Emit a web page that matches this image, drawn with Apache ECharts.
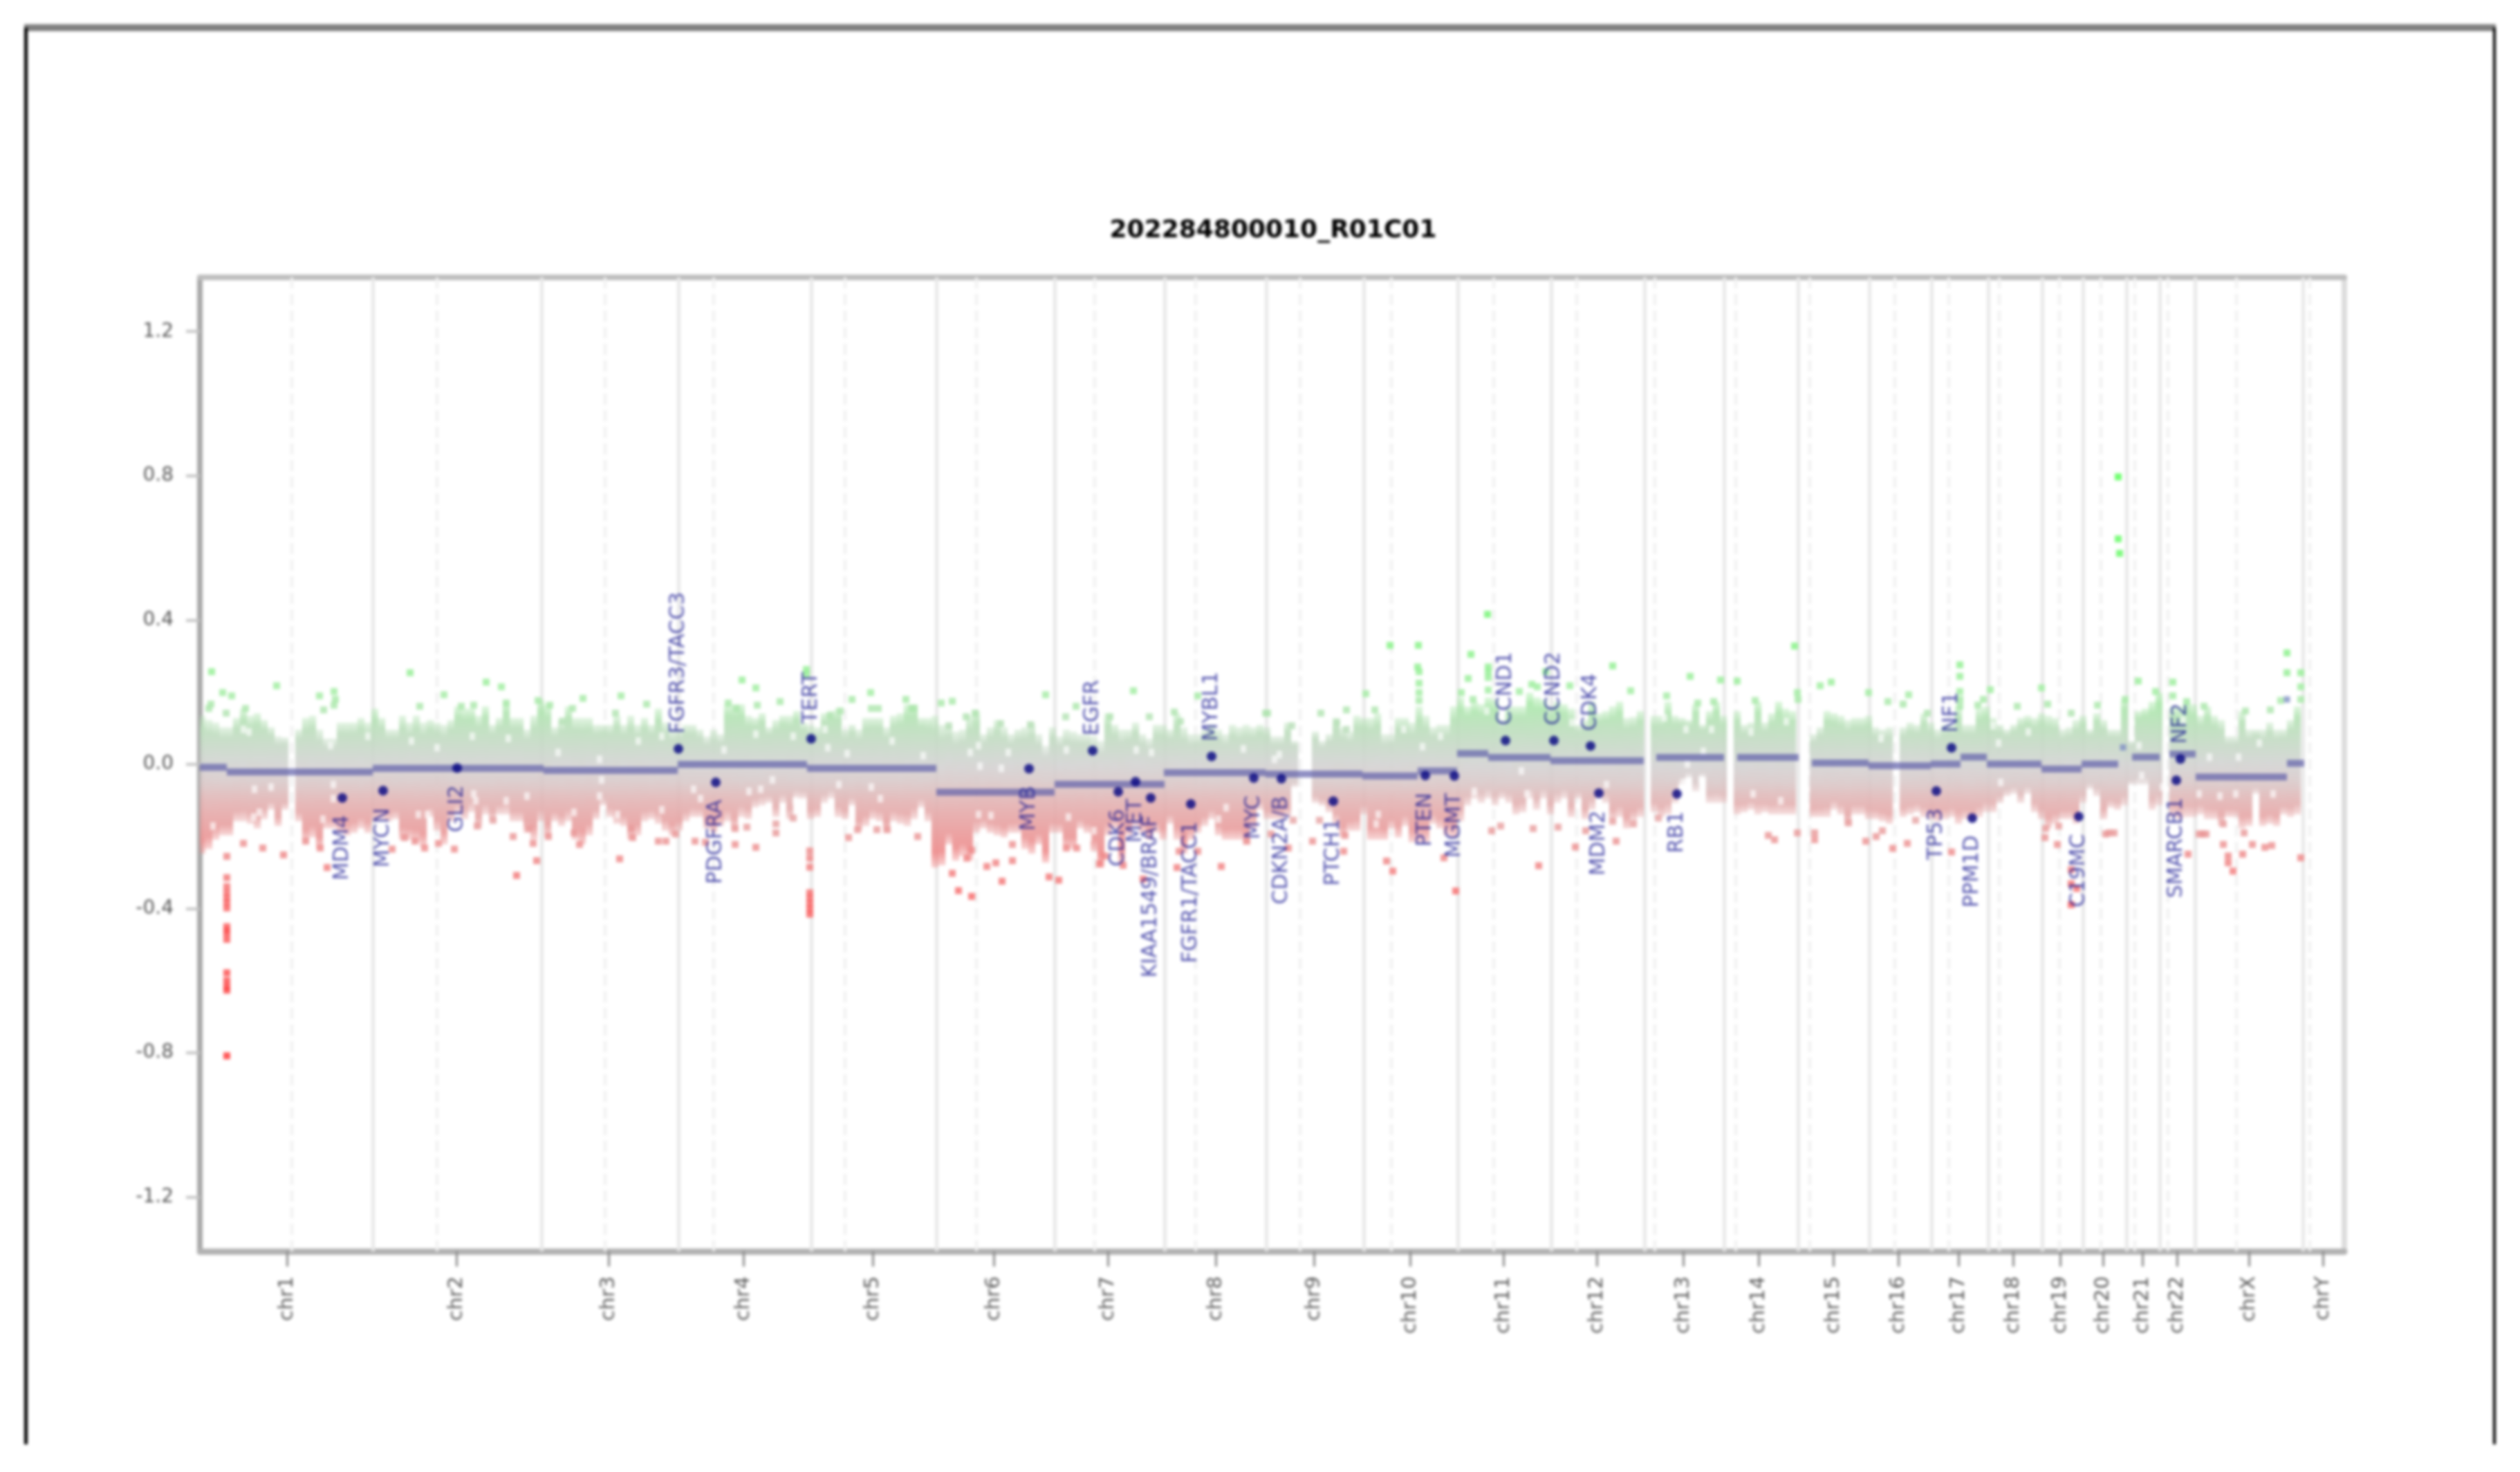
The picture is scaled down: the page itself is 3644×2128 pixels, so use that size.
<!DOCTYPE html>
<html><head><meta charset="utf-8"><title>202284800010_R01C01</title>
<style>html,body{margin:0;padding:0;background:#fff}#chart{width:3644px;height:2128px;filter:blur(2px)}</style>
<script src="https://cdn.jsdelivr.net/npm/echarts@6/dist/echarts.min.js"></script>
</head><body><div id="chart"></div>
<script>
const titleText = '202284800010_R01C01';
const yTicks = [-1.2,-0.8,-0.4,0,0.4,0.8,1.2];
const chrNames = ['chr1','chr2','chr3','chr4','chr5','chr6','chr7','chr8','chr9','chr10','chr11','chr12','chr13','chr14','chr15','chr16','chr17','chr18','chr19','chr20','chr21','chr22','chrX','chrY'];
const chrTicks = [123,368,588,783,970,1145,1310,1466,1608,1747,1882,2017,2142,2251,2359,2453,2540,2619,2687,2749,2806,2856,2960,3067];
const chrEnds = [247.5,491,689,881,1062,1233,1392.6,1539,1680,1816,1951.7,2086,2201,2308.4,2411.6,2501.7,2583,2661,2720,2783,2831.4,2882.5,3038];
const centromeres = [130,340,583,740,930,1120,1291,1437,1588,1720,1868,1988,2101,2218,2325,2448,2526,2599,2686,2746,2795,2843,2942,3048];

// copy-number cloud: upper and lower edge of the dense band, one reading every 10 Mb
const cloudStarts = [0,520,1030,1540,2060,2570];
const upper1 = [.135,.123,.116,.103,.103,.129,.155,.135,.142,.123,.103,.078,.075,null,.097,.129,.135,.097,.072,.072,.116,.116,.116,.129,.116,.155,.129,.097,.097,.135,.116,.135,.116,.123,.116,.11,.123,.161,.155,.155,.135,.161,.11,.129,.174,.129,.129,.097,.135,.18,.167,.103];
const lower1 = [-.248,-.235,-.209,-.197,-.197,-.158,-.158,-.165,-.178,-.152,-.126,-.171,-.126,null,-.158,-.216,-.203,-.235,-.178,-.178,-.19,-.197,-.19,-.178,-.19,-.158,-.152,-.158,-.152,-.209,-.209,-.216,-.229,-.146,-.184,-.222,-.158,-.139,-.152,-.133,-.178,-.139,-.158,-.139,-.139,-.158,-.158,-.19,-.209,-.158,-.203,-.158];
const upper2 = [.123,.161,.129,.129,.129,.11,.11,.11,.135,.11,.135,.11,.129,.11,.155,.116,.097,.097,.11,.11,.097,.078,.097,.084,.167,.167,.167,.135,.129,.142,.103,.123,.135,.135,.148,.116,.11,.103,.142,.148,.155,.097,.11,.097,.129,.129,.129,.103,.135,.142,.167];
const lower2 = [-.171,-.158,-.209,-.222,-.197,-.152,-.114,-.146,-.165,-.171,-.209,-.197,-.158,-.152,-.165,-.184,-.197,-.184,-.158,-.146,-.146,-.178,-.19,-.171,-.158,-.184,-.146,-.152,-.12,-.114,-.107,-.146,-.107,-.152,-.095,-.095,-.152,-.146,-.107,-.095,-.146,-.152,-.114,-.184,-.171,-.152,-.158,-.19,-.158,-.165,-.171];
const upper3 = [.167,.129,.129,.135,.11,.11,.091,.097,.135,.148,.084,.103,.123,.103,.084,.097,.103,.116,.084,.052,.103,.078,.097,.091,.084,.084,.078,.065,.142,.11,.097,.097,.116,.084,.072,.11,.11,.097,.142,.103,.084,.084,.097,.11,.097,.084,.11,.103,.11,.103,.11];
const lower3 = [-.152,-.12,-.158,-.286,-.28,-.222,-.267,-.254,-.267,-.19,-.178,-.19,-.197,-.203,-.19,-.19,-.235,-.248,-.222,-.273,-.19,-.19,-.235,-.235,-.178,-.19,-.241,-.286,-.197,-.178,-.273,-.197,-.171,-.19,-.209,-.19,-.209,-.165,-.209,-.248,-.209,-.19,-.171,-.152,-.197,-.209,-.209,-.209,-.222,-.178,-.126];
const upper4 = [.103,.078,.078,.116,.065,null,null,.091,.065,.084,.129,.103,.091,.135,.129,.129,.142,.084,.084,.129,.129,.116,.161,.135,.103,.11,.11,.161,.186,.161,.174,.167,.186,.18,.123,.161,.161,.161,.199,.186,.18,.161,.174,.167,.155,.11,.123,.174,.142,.148,.161,.174];
const lower4 = [-.152,-.152,-.152,-.146,-.063,null,null,-.107,-.114,-.133,-.165,-.203,-.184,-.184,-.139,-.209,-.209,-.209,-.178,-.203,-.171,-.216,-.216,-.216,-.165,-.178,-.197,-.203,-.158,-.114,-.095,-.107,-.095,-.114,-.095,-.107,-.139,-.133,-.095,-.126,-.095,-.139,-.107,-.095,-.146,-.095,-.152,-.126,-.095,-.107,-.158,-.146];
const upper5 = [.129,.132,.148,null,.135,.135,.174,.135,.129,.123,.167,.11,.148,.174,.135,null,.148,.11,.116,.174,.116,.142,.174,.155,.148,null,null,.084,.103,.148,.142,.135,.123,.129,.129,.135,.103,.097,.103,null,.103,.116,.11,.142,.116,.097,.11,.11,.161,.11,.11];
const lower5 = [-.178,-.158,-.146,null,-.133,-.146,-.139,-.107,-.056,-.037,-.075,-.037,-.107,-.107,-.107,null,-.139,-.133,-.126,-.139,-.133,-.139,-.139,-.139,-.139,null,null,-.146,-.146,-.146,-.126,-.139,-.171,-.139,-.139,-.152,-.152,-.158,-.165,null,-.146,-.139,-.133,-.146,-.152,-.158,-.152,-.146,-.165,-.152,-.158];
const upper6 = [.155,.161,.129,.11,.097,.11,.129,.135,.129,.142,.135,.129,.097,.103,.123,.135,.097,.142,.123,.097,.097,.18,.065,.148,.155,.174,.199,null,.161,.161,.18,.167,.135,.161,.135,.123,.078,.078,.148,.097,.097,.097,.116,.097,.097,.123,.161];
const lower6 = [-.146,-.133,-.133,-.107,-.088,-.082,-.107,-.082,-.133,-.152,-.178,-.165,-.152,-.152,-.165,-.107,-.069,-.088,-.152,-.12,-.126,-.114,-.056,-.056,-.056,-.126,-.114,null,-.146,-.152,-.146,-.146,-.139,-.152,-.152,-.171,-.146,-.146,-.178,-.171,-.082,-.171,-.165,-.171,-.139,-.146,-.139];

// sparse probes outside the band [Mb, log-ratio]
const gainPoints = [[14,.257],[30,.199],[43,.19],[108,.218],[13,.167],[10,.155],[35,.142],[63,.155],[170,.19],[191,.202],[193,.18],[191,.164],[176,.151],[301,.254],[350,.193],[411,.228],[433,.215],[315,.161],[375,.161],[393,.164],[440,.17],[486,.177],[503,.164],
[874,.263],[874,.25],[551,.183],[606,.19],[536,.155],[643,.167],[598,.142],[781,.234],[801,.212],[836,.174],[803,.164],[940,.18],[967,.199],[1018,.18],[1026,.155],[521,.12],[773,.155],[761,.17],[968,.155],[978,.155],[908,.135],[923,.148],
[1069,.17],[1085,.175],[1030,.155],[1118,.142],[1105,.132],[1080,.107],[1220,.193],[1264,.161],[1249,.132],[1347,.204],[1370,.132],[1313,.132],[1406,.145],[1440,.19],[1538,.142],[1155,.113],[1198,.11],[1415,.119],
[1718,.33],[1759,.33],[1758,.27],[1760,.257],[1760,.225],[1760,.199],[1760,.177],[1835,.305],[1860,.27],[1860,.257],[1860,.241],[1831,.238],[1860,.206],[2040,.273],[1683,.196],[1655,.151],[1618,.142],[1576,.107],[1923,.222],[1978,.218],[1943,.257],[1821,.199],[1838,.18],[1905,.202],[1931,.215],[1696,.151],[1541,.142],[1655,.097],[1641,.116],[1859,.416],
[2066,.204],[2152,.244],[2196,.234],[2220,.231],[2303,.328],[2118,.19],[2340,.218],[2356,.228],[2410,.199],[2438,.174],[2468,.193],[2460,.167],[2307,.199],[2308,.18],[2163,.17],[2186,.174],[2246,.177],[2495,.142],[2542,.276],[2542,.244],[2542,.202],[2542,.18],[2542,.161],[2568,.164],
[2586,.207],[2660,.212],[2625,.161],[2669,.167],[2576,.18],[2703,.142],[2741,.164],[2781,.18],[2800,.231],[2825,.202],[2850,.228],[2850,.19],[2895,.161],[2955,.148],[2991,.151],[3015,.309],[3015,.254],[3035,.254],[3035,.215],[3035,.18],[3006,.177],[2870,.174],[2771,.797],[2771,.625],[2773,.585]];
const lossPoints = [[36,-.255],[36,-.314],[36,-.339],[36,-.356],[36,-.37],[36,-.383],[36,-.398],[36,-.45],[36,-.46],[36,-.467],[36,-.485],[36,-.578],[36,-.6],[36,-.617],[36,-.626],[36,-.808],
[60,-.219],[88,-.232],[118,-.251],[150,-.213],[171,-.232],[181,-.286],[275,-.235],[293,-.203],[308,-.213],[322,-.232],[342,-.219],[365,-.235],[398,-.171],[421,-.155],[450,-.2],[473,-.178],[479,-.219],[484,-.267],[455,-.308],[501,-.2],
[604,-.262],[546,-.222],[538,-.19],[621,-.178],[623,-.203],[660,-.213],[671,-.213],[713,-.213],[728,-.216],[771,-.222],[801,-.23],[830,-.165],[830,-.19],[855,-.149],[771,-.178],[788,-.174],[935,-.203],[948,-.181],[976,-.181],[991,-.181],[685,-.193],
[879,-.24],[879,-.26],[879,-.285],[879,-.356],[879,-.37],[879,-.385],[879,-.4],[879,-.415],
[1035,-.2],[1085,-.302],[1094,-.35],[1113,-.366],[1135,-.283],[1148,-.273],[1172,-.267],[1157,-.324],[1225,-.312],[1239,-.321],[1172,-.222],[1250,-.232],[1265,-.232],[1298,-.276],[1332,-.28],[1361,-.318],[1410,-.286],[1474,-.283],[1511,-.213],[1113,-.238],[1106,-.26],[1306,-.254],[1413,-.241],[1440,-.241],
[1571,-.232],[1546,-.193],[1578,-.155],[1606,-.213],[1616,-.155],[1713,-.268],[1722,-.296],[1796,-.259],[1813,-.351],[1865,-.184],[1878,-.171],[1925,-.178],[1961,-.174],[1986,-.229],[1933,-.281],[2045,-.213],[2001,-.184],[2040,-.158],[1651,-.241],[1653,-.197],
[2070,-.165],[2106,-.149],[2265,-.197],[2274,-.209],[2307,-.19],[2332,-.19],[2332,-.209],[2381,-.162],[2406,-.213],[2421,-.2],[2430,-.184],[2445,-.233],[2466,-.219],[2530,-.243],[2478,-.155],
[2683,-.222],[2666,-.178],[2685,-.171],[2665,-.203],[2758,-.19],[2753,-.193],[2765,-.19],[2872,-.249],[2893,-.193],[2888,-.193],[2898,-.193],[2923,-.222],[2930,-.254],[2930,-.273],[2937,-.296],[2951,-.249],[2965,-.222],[2983,-.23],[2993,-.225],[3035,-.259],[2703,-.292],[2703,-.331],[2711,-.344],[2703,-.389],[2923,-.165],[2953,-.19]];
// thin spots inside the band [Mb, log-ratio]
const bandGaps = [[60,.097],[68,.09],[303,.065],[340,.046],[391,.078],[443,.072],[76,-.069],[100,-.063],[75,-.146],[83,-.133],[16,-.171],[190,-.056],[190,-.095],[175,-.152],[263,-.165],[313,-.139],[326,-.139],[393,-.082],[396,-.101],[440,-.101],[470,-.088],[186,.052],[240,.078],
[515,.033],[631,.065],[665,.078],[575,.014],[578,-.043],[575,-.088],[538,-.133],[601,-.139],[665,-.126],[711,-.069],[721,-.095],[755,.04],[801,.084],[855,.078],[905,.046],[933,.03],[998,.065],[791,-.075],[808,-.069],[825,-.043],[858,-.101],[921,-.056],[968,-.063],[981,-.095],[901,.097],
[1043,.024],[1111,.033],[1125,-.005],[1123,.052],[1156,-.011],[1166,.033],[1123,-.139],[1141,-.142],[1040,-.152],[1250,.04],[1373,.033],[1351,.04],[1481,-.12],[1253,-.146],[1290,-.184],[1470,-.152],[1506,.043],[1283,-.203],
[1551,.014],[1558,.027],[1738,.097],[1765,.049],[1791,.078],[1698,-.165],[1701,-.139],[1858,.148],[1908,-.018],[1840,-.075],[1981,.116],[2031,-.056],[1916,-.082],
[2143,-.05],[2168,-.043],[2146,.097],[2115,.129],[2243,-.082],[2240,.09],[2291,.119],[2283,-.101],[2183,.097],[2428,.072],[2171,.036],[2148,.001],
[2601,-.05],[2598,.059],[2641,.09],[2590,.107],[2801,.052],[2805,-.031],[2903,.02],[2945,.02],[2975,.059],[2888,-.082],[2918,-.088],[2941,-.082],[2995,-.082],[2865,.123],[2835,-.063]];
const faintMarks = [[2778,.047],[3015,.18]];

// segments
const segStart = [-3,36,247,494,688,875,1062,1233,1391,1538,1678,1758,1815,1860,1950,2103,2220,2328,2410,2500,2543,2581,2660,2718,2791,2845,2883,3015];
const segEnd   = [36,247,494,688,875,1062,1233,1392,1538,1678,1758,1815,1860,1950,2085,2201,2309,2410,2500,2543,2581,2660,2718,2771,2831,2883,3015,3040];
const segValue = [-.008,-.021,-.011,-.017,0,-.011,-.077,-.055,-.023,-.027,-.032,-.018,.03,.019,.01,.019,.019,.004,-.004,.001,.02,.001,-.013,.001,.02,.029,-.035,.003];

// genes
const geneNames = ['MDM4','MYCN','GLI2','FGFR3/TACC3','PDGFRA','TERT','MYB','EGFR','CDK6','MET','KIAA1549/BRAF','FGFR1/TACC1','MYBL1','MYC','CDKN2A/B','PTCH1','PTEN','MGMT','CCND1','CCND2','CDK4','MDM2','RB1','TP53','NF1','PPM1D','C19MC','SMARCB1','NF2'];
const geneX = [203,262,369,689,743,881,1196,1288,1325,1350,1372,1430,1460,1521,1561,1636,1769,1811,1885,1955,2008,2020,2133,2508,2530,2560,2714,2855,2861];
const geneY = [-.093,-.073,-.01,.043,-.05,.071,-.012,.038,-.076,-.048,-.093,-.11,.022,-.038,-.04,-.102,-.031,-.032,.066,.066,.051,-.08,-.082,-.074,.046,-.149,-.145,-.044,.015];

const anchors=[[0,[210,210,210]],[.05,[198,216,198]],[.1,[186,222,186]],[.2,[160,236,160]],[.4,[115,245,115]],[.8,[80,255,80]],
 [-.05,[216,200,200]],[-.1,[226,178,178]],[-.2,[234,148,148]],[-.4,[250,95,95]],[-.8,[255,50,50]]].sort((a,b)=>a[0]-b[0]);
function colourRGB(v){
  v=Math.max(-.8,Math.min(.8,v));
  for(let i=0;i<anchors.length-1;i++){const a=anchors[i],b=anchors[i+1];
    if(v>=a[0]&&v<=b[0]){const t=(v-a[0])/(b[0]-a[0]);return a[1].map((c,j)=>Math.round(c+(b[1][j]-c)*t));}}
  return [210,210,210];
}
function colour(v,al){const c=colourRGB(v);return `rgba(${c[0]},${c[1]},${c[2]},${al===undefined?1:al})`;}

const cloudData=[];
[[upper1,lower1],[upper2,lower2],[upper3,lower3],[upper4,lower4],[upper5,lower5],[upper6,lower6]].forEach(([u,l],w)=>{
  u.forEach((v,i)=>{ if(v!==null&&l[i]!==null) cloudData.push([cloudStarts[w]+10*i,l[i],v]); });
});
const columnHalf=5.1;
function renderColumn(params,api){
  const x=api.value(0),lo=api.value(1),hi=api.value(2);
  const a=api.coord([x-columnHalf,hi]),b=api.coord([x+columnHalf,lo]);
  const stops=[];const n=10;
  for(let i=0;i<=n;i++){const t=i/n,val=hi+(lo-hi)*t;
    stops.push({offset:t,color:colour(val,(i===0||i===n)?.35:.88)});}
  return {type:'rect',shape:{x:a[0],y:a[1],width:b[0]-a[0],height:b[1]-a[1]},
    style:{fill:{type:'linear',x:0,y:0,x2:0,y2:1,colorStops:stops}}};
}
function renderSegment(params,api){
  const a=api.coord([api.value(0),api.value(2)]),b=api.coord([api.value(1),api.value(2)]);
  return {type:'rect',shape:{x:a[0],y:a[1]-5,width:b[0]-a[0],height:10},style:{fill:'rgba(92,92,168,.68)'}};
}
const vLine=(arr,style)=>arr.map(v=>({xAxis:v,lineStyle:style}));
const labelCommon={show:true,rotate:90,fontFamily:'DejaVu Sans',fontSize:30,color:'rgba(20,20,145,.92)',verticalAlign:'middle',formatter:p=>p.data[2]};
const genes=geneNames.map((n,i)=>[geneX[i],geneY[i],n]);
// genes placed above or below the dot, as labelled in the picture
const aboveNames=['FGFR3/TACC3','TERT','EGFR','MYBL1','CCND1','CCND2','CDK4','NF1','NF2'];
const genesAbove=genes.filter(g=>aboveNames.includes(g[2]));
const genesBelow=genes.filter(g=>!aboveNames.includes(g[2]));

const chart=echarts.init(document.getElementById('chart'),null,{renderer:'canvas'});
const hiddenAxis={show:true,axisTick:{show:false},axisLabel:{show:false},splitLine:{show:false}};
chart.setOption({
  animation:false,backgroundColor:'#fff',
  title:{text:titleText,left:1836,top:311,textAlign:'center',textStyle:{fontFamily:'DejaVu Sans',fontWeight:'bold',fontSize:36,color:'#000'}},
  grid:{left:289,top:401,width:3101,height:1408,show:false},
  graphic:[
    {type:'rect',shape:{x:35,y:35,width:3574,height:10},style:{fill:'#808080'},z:10},
    {type:'rect',shape:{x:35,y:40,width:5,height:2048},style:{fill:'#000'},z:10},
    {type:'rect',shape:{x:3605,y:40,width:4,height:2048},style:{fill:'#000'},z:10}
  ],
  xAxis:[
   {type:'value',min:-3,max:3098,position:'bottom',
    axisLine:{show:true,onZero:false,lineStyle:{color:'#b2b2b2',width:9}},
    axisTick:{show:true,length:22,customValues:chrTicks,lineStyle:{color:'#8a8a8a',width:3}},
    axisLabel:{show:true,customValues:chrTicks,rotate:90,margin:36,fontFamily:'DejaVu Sans',fontSize:29,color:'#5a5a5a',
      formatter:v=>chrNames[chrTicks.indexOf(v)]},
    splitLine:{show:false}},
   Object.assign({type:'value',min:-3,max:3098,position:'top',axisLine:{show:true,onZero:false,lineStyle:{color:'#bdbdbd',width:8}}},hiddenAxis)
  ],
  yAxis:[
   {type:'value',min:-1.35,max:1.35,position:'left',
    axisLine:{show:true,onZero:false,lineStyle:{color:'#a9a9a9',width:8}},
    axisTick:{show:true,length:20,customValues:yTicks,lineStyle:{color:'#c4c4c4',width:4}},
    axisLabel:{show:true,customValues:yTicks,margin:38,fontFamily:'DejaVu Sans',fontSize:28,color:'#555',formatter:v=>v.toFixed(1)},
    splitLine:{show:false}},
   Object.assign({type:'value',min:-1.35,max:1.35,position:'right',axisLine:{show:true,onZero:false,lineStyle:{color:'#dcdcdc',width:8}}},hiddenAxis)
  ],
  series:[
    {type:'custom',name:'band',z:3,clip:true,renderItem:renderColumn,encode:{x:0,y:[1,2]},data:cloudData,silent:true,
     markLine:{silent:true,z:1,symbol:'none',animation:false,label:{show:false},
       data:vLine(chrEnds,{type:'solid',color:'#e8e8e8',width:5}).concat(vLine(centromeres,{type:'dashed',color:'#f0f0f0',width:4}))}},
    {type:'scatter',name:'gaps',z:4,silent:true,symbol:'rect',symbolSize:[8,11],data:bandGaps,itemStyle:{color:'rgba(255,255,255,.8)'}},
    {type:'scatter',name:'gain',z:5,silent:true,symbol:'rect',symbolSize:10,data:gainPoints,itemStyle:{color:p=>colour(p.data[1])}},
    {type:'scatter',name:'loss',z:5,silent:true,symbol:'rect',symbolSize:10,data:lossPoints,itemStyle:{color:p=>colour(p.data[1])}},
    {type:'scatter',name:'faint',z:6,silent:true,symbol:'rect',symbolSize:9,data:faintMarks,itemStyle:{color:'#8090c4'}},
    {type:'custom',name:'segments',z:7,clip:true,silent:true,renderItem:renderSegment,encode:{x:[0,1],y:2},data:segStart.map((s,i)=>[s,segEnd[i],segValue[i]])},
    {type:'scatter',name:'genesAbove',z:8,silent:true,symbol:'circle',symbolSize:14,data:genesAbove,itemStyle:{color:'#00007f'},
     label:Object.assign({},labelCommon,{position:'top',distance:15,align:'left'})},
    {type:'scatter',name:'genesBelow',z:8,silent:true,symbol:'circle',symbolSize:14,data:genesBelow,itemStyle:{color:'#00007f'},
     label:Object.assign({},labelCommon,{position:'bottom',distance:18,align:'right'})}
  ]
});
</script></body></html>
